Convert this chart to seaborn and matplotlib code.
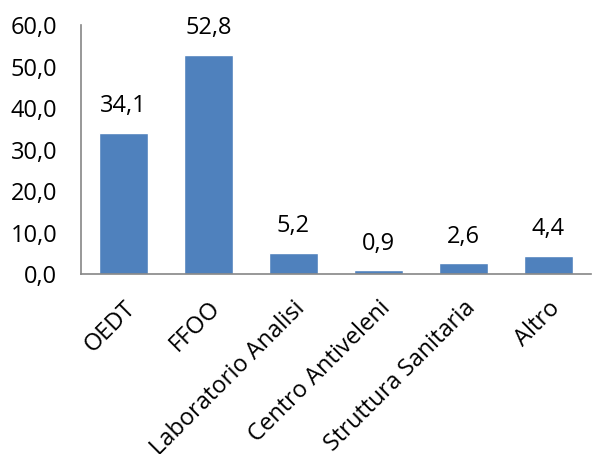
import matplotlib
matplotlib.use("Agg")
import matplotlib.pyplot as plt
import seaborn as sns
import pandas as pd

categories = ["OEDT", "FFOO", "Laboratorio Analisi", "Centro Antiveleni", "Struttura Sanitaria", "Altro"]
values = [34.1, 52.8, 5.2, 0.9, 2.6, 4.4]
yticks = [0, 10, 20, 30, 40, 50, 60]

sns.set_theme(style="white")
plt.rcParams['font.family'] = ['Open Sans', 'DejaVu Sans']

FS = 17

df = pd.DataFrame({"cat": categories, "val": values})

fig = plt.figure(figsize=(6.06, 4.54), dpi=100)
ax = fig.add_axes([0.1337, 0.396, 0.8413, 0.549])
sns.barplot(data=df, x="cat", y="val", color="#4F81BD", saturation=1, width=0.58, ax=ax)

ax.set_ylim(0, 60)
ax.set_yticks(yticks)
ax.set_yticklabels([f"{v:.1f}".replace(".", ",") for v in yticks], fontsize=FS, color="black")
ax.set_xlim(-0.5, len(categories) - 0.5)
ax.set_xlabel("")
ax.set_ylabel("")
ax.tick_params(axis="y", length=0, pad=17)
ax.tick_params(axis="x", length=0, pad=16)
plt.setp(ax.get_xticklabels(), rotation=45, ha="right", rotation_mode="anchor", fontsize=FS, color="black")

for i, v in enumerate(values):
    ax.text(i, v + 3.5, f"{v:.1f}".replace(".", ","), ha="center", va="bottom", fontsize=FS, color="black")

for s in ["top", "right"]:
    ax.spines[s].set_visible(False)
for s in ["left", "bottom"]:
    ax.spines[s].set_color("#868686")
    ax.spines[s].set_linewidth(1.2)

fig.savefig("out.png", dpi=100)
